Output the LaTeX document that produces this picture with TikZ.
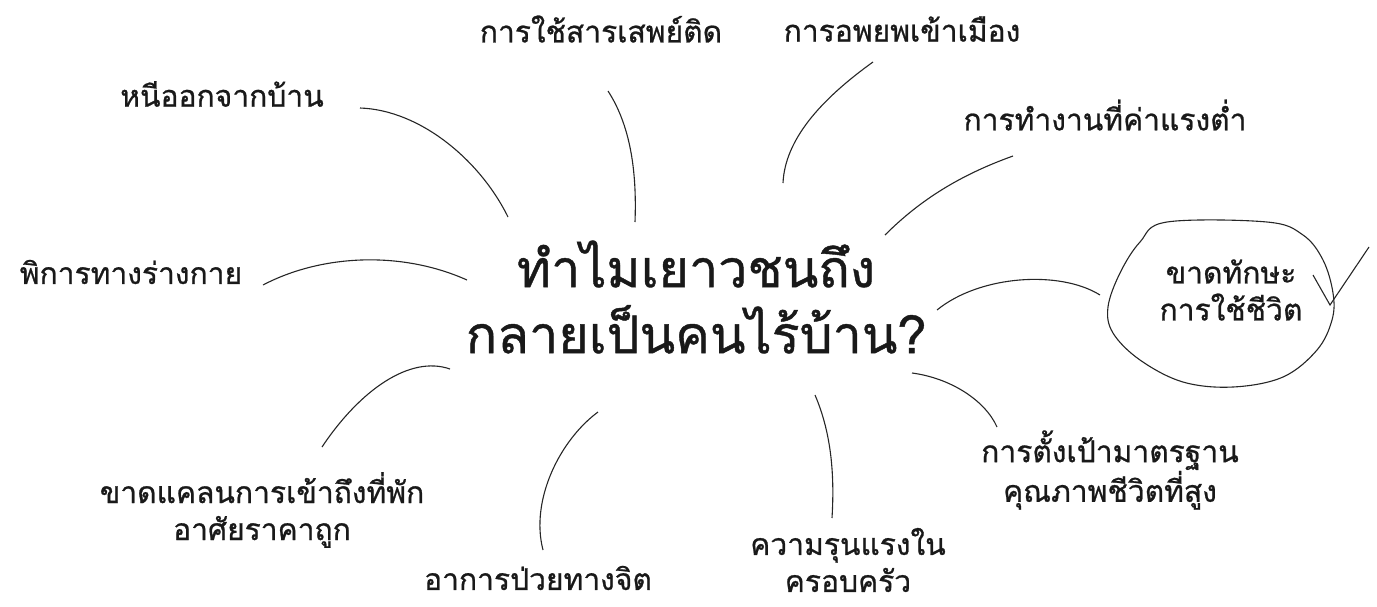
\documentclass[tikz,border=0pt]{standalone}
\usepackage{fontspec}
\newfontfamily\thaifont[Script=Thai,FakeBold=0.8]{Loma}
\begin{document}
\begin{tikzpicture}[x=1pt,y=-1pt,
  lbl/.style={font=\thaifont\fontsize{30}{37}\selectfont, text=black!90, inner sep=0pt, align=center},
  big/.style={font=\thaifont\fontsize{52}{66}\selectfont, text=black!90, inner sep=0pt, align=center},
  conn/.style={line width=1.1pt, black!85}]
\useasboundingbox (0,0) rectangle (1377,606);
% title
\node[big] (title) at (696,297) {ทำไมเยาวชนถึง\\กลายเป็นคนไร้บ้าน?};
% labels
\node[lbl] (drug) at (601,29) {การใช้สารเสพย์ติด};
\node[lbl] (migr) at (902,29) {การอพยพเข้าเมือง};
\node[lbl] (run) at (222,94) {หนีออกจากบ้าน};
\node[lbl] (work) at (1105,115) {การทำงานที่ค่าแรงต่ำ};
\node[lbl] (dis) at (131,272) {พิการทางร่างกาย};
\node[lbl] (skill) at (1231,290) {ขาดทักษะ\\การใช้ชีวิต};
\node[lbl] (std) at (1110,470) {การตั้งเป้ามาตรฐาน\\คุณภาพชีวิตที่สูง};
\node[lbl] (house) at (262,510) {ขาดแคลนการเข้าถึงที่พัก\\อาศัยราคาถูก};
\node[lbl] (mental) at (538,578) {อาการป่วยทางจิต};
\node[lbl] (viol) at (848,560) {ความรุนแรงใน\\ครอบครัว};
% connector end points
\coordinate (a1) at (360,108); \coordinate (a2) at (508,217);
\coordinate (b1) at (608,91);  \coordinate (b2) at (635,222);
\coordinate (c1) at (873,62);  \coordinate (c2) at (783,183);
\coordinate (d1) at (1013,156); \coordinate (d2) at (885,235);
\coordinate (e1) at (263,285); \coordinate (e2) at (467,280);
\coordinate (f1) at (937,310); \coordinate (f2) at (1100,295);
\coordinate (g1) at (912,373); \coordinate (g2) at (997,427);
\coordinate (h1) at (815,395); \coordinate (h2) at (832,518);
\coordinate (i1) at (598,412); \coordinate (i2) at (543,550);
\coordinate (j1) at (322,447); \coordinate (j2) at (450,369);
\draw[conn] (a1) .. controls (420,110) and (480,160) .. (a2);
\draw[conn] (b1) .. controls (630,125) and (637,170) .. (b2);
\draw[conn] (c1) .. controls (820,100) and (785,140) .. (c2);
\draw[conn] (d1) .. controls (960,175) and (920,200) .. (d2);
\draw[conn] (e1) .. controls (320,255) and (400,250) .. (e2);
\draw[conn] (f1) .. controls (980,275) and (1060,270) .. (f2);
\draw[conn] (g1) .. controls (950,378) and (985,400) .. (g2);
\draw[conn] (h1) .. controls (830,430) and (835,470) .. (h2);
\draw[conn] (i1) .. controls (560,440) and (530,500) .. (i2);
\draw[conn] (j1) .. controls (360,390) and (410,355) .. (j2);
% hand-drawn ellipse
\draw[conn] plot[smooth cycle, tension=0.6] coordinates {(1167,222) (1267,222) (1303,235) (1323,260) (1333,293) (1332,320) (1317,350) (1283,377) (1233,387) (1183,382) (1140,360) (1113,333) (1108,307) (1120,273) (1140,242)};
% check mark
\coordinate (k1) at (1313,275); \coordinate (k2) at (1330,305); \coordinate (k3) at (1369,247);
\draw[conn] (k1) -- (k2) -- (k3);
\end{tikzpicture}
\end{document}
